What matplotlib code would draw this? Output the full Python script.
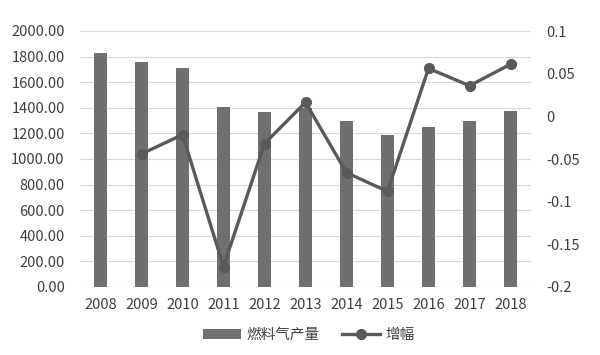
import numpy as np
import matplotlib.pyplot as plt
from matplotlib.ticker import FixedLocator

plt.rcParams['font.family'] = ['Noto Sans CJK SC', 'DejaVu Sans']

years = ['2008', '2009', '2010', '2011', '2012', '2013', '2014', '2015', '2016', '2017', '2018']
output = [1830, 1755, 1711, 1409, 1367, 1400, 1299, 1187, 1252, 1294, 1375]
growth = [None, -0.044, -0.0215, -0.176, -0.032, 0.0164, -0.066, -0.088, 0.0562, 0.0359, 0.061]

bar_color = '#6f6f6f'
line_color = '#5a5a5a'
text_color = '#404040'
grid_color = '#d9d9d9'

fig = plt.figure(figsize=(6, 3.55), dpi=100)
ax = fig.add_axes([80 / 600, 1 - 287 / 355, 451 / 600, 256 / 355])
x = np.arange(len(years))
ax.bar(x, output, width=0.32, color=bar_color, label='燃料气产量', zorder=2)
ax.set_xlim(-0.5, len(years) - 0.5)
ax.set_ylim(0, 2000)
ax.set_yticks(np.arange(0, 2001, 200))
ax.set_yticklabels([f'{v:.2f}' for v in np.arange(0, 2001, 200)])
ax.set_xticks(x)
ax.set_xticklabels(years)
ax.grid(axis='y', color=grid_color, linewidth=0.8, zorder=0)
for s in ax.spines.values():
    s.set_visible(False)
ax.tick_params(length=0, colors=text_color, labelsize=10.5)
ax.tick_params(axis='x', pad=8)
ax.tick_params(axis='y', pad=11)

ax2 = ax.twinx()
gx = [i for i, g in enumerate(growth) if g is not None]
gy = [g for g in growth if g is not None]
ax2.plot(gx, gy, color=line_color, linewidth=2.4, marker='o', markersize=7,
         label='增幅', zorder=3)
ax2.set_ylim(-0.2, 0.1)
ax2.yaxis.set_major_locator(FixedLocator([-0.2, -0.15, -0.1, -0.05, 0, 0.05, 0.1]))
ax2.set_yticklabels(['-0.2', '-0.15', '-0.1', '-0.05', '0', '0.05', '0.1'])
for s in ax2.spines.values():
    s.set_visible(False)
ax2.tick_params(length=0, colors=text_color, labelsize=10.5, pad=11)

h1, l1 = ax.get_legend_handles_labels()
h2, l2 = ax2.get_legend_handles_labels()
fig.legend(h1 + h2, l1 + l2, loc='center', bbox_to_anchor=(0.515, 1 - 335 / 355),
           ncol=2, frameon=False, fontsize=10.5, labelcolor=text_color,
           handlelength=2.6, columnspacing=1.5, handletextpad=0.4)

fig.savefig('out.png', dpi=100)
